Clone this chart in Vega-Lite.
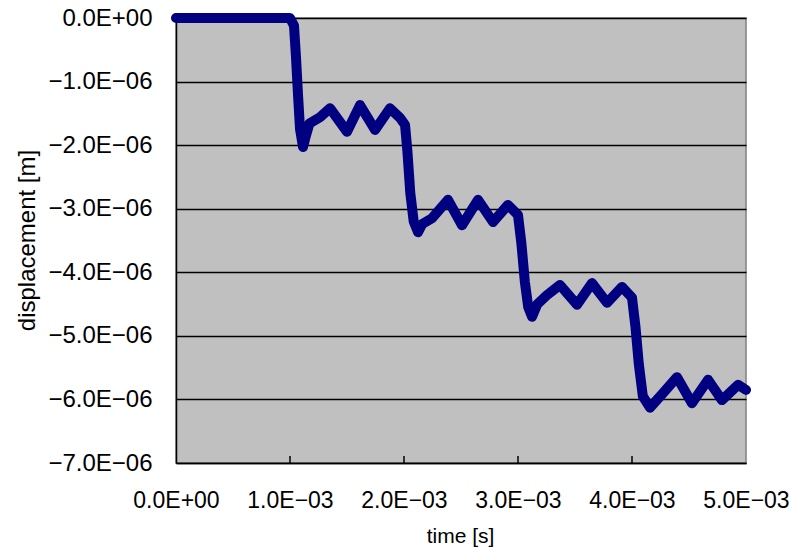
{
  "$schema": "https://vega.github.io/schema/vega-lite/v6.json",
  "width": 570,
  "height": 445,
  "autosize": {"type": "none"},
  "padding": {"left": 176, "top": 18, "right": 43, "bottom": 85},
  "background": "#ffffff",
  "config": {
    "view": {"fill": "#c0c0c0", "stroke": "#808080", "strokeWidth": 1.5},
    "font": "Liberation Sans"
  },
  "datasets": {
    "series": [
      {"t": 0.0, "d": 0.0},
      {"t": 0.0010, "d": 0.0},
      {"t": 0.001035, "d": -0.12e-6},
      {"t": 0.001052, "d": -0.6e-6},
      {"t": 0.001070, "d": -1.2e-6},
      {"t": 0.001088, "d": -1.75e-6},
      {"t": 0.001114, "d": -2.03e-6},
      {"t": 0.001140, "d": -1.85e-6},
      {"t": 0.001170, "d": -1.66e-6},
      {"t": 0.001263, "d": -1.56e-6},
      {"t": 0.001351, "d": -1.42e-6},
      {"t": 0.0015, "d": -1.79e-6},
      {"t": 0.001614, "d": -1.37e-6},
      {"t": 0.001746, "d": -1.76e-6},
      {"t": 0.001877, "d": -1.42e-6},
      {"t": 0.001965, "d": -1.57e-6},
      {"t": 0.002009, "d": -1.68e-6},
      {"t": 0.002030, "d": -2.1e-6},
      {"t": 0.002055, "d": -2.75e-6},
      {"t": 0.002085, "d": -3.2e-6},
      {"t": 0.002123, "d": -3.37e-6},
      {"t": 0.002160, "d": -3.24e-6},
      {"t": 0.002246, "d": -3.15e-6},
      {"t": 0.002386, "d": -2.86e-6},
      {"t": 0.002509, "d": -3.26e-6},
      {"t": 0.002649, "d": -2.86e-6},
      {"t": 0.002781, "d": -3.21e-6},
      {"t": 0.002912, "d": -2.94e-6},
      {"t": 0.0030, "d": -3.1e-6},
      {"t": 0.003030, "d": -3.55e-6},
      {"t": 0.003060, "d": -4.15e-6},
      {"t": 0.003090, "d": -4.55e-6},
      {"t": 0.003123, "d": -4.7e-6},
      {"t": 0.003170, "d": -4.5e-6},
      {"t": 0.003254, "d": -4.36e-6},
      {"t": 0.003368, "d": -4.2e-6},
      {"t": 0.003518, "d": -4.51e-6},
      {"t": 0.003649, "d": -4.17e-6},
      {"t": 0.003781, "d": -4.48e-6},
      {"t": 0.003912, "d": -4.23e-6},
      {"t": 0.0040, "d": -4.4e-6},
      {"t": 0.004030, "d": -4.85e-6},
      {"t": 0.004060, "d": -5.45e-6},
      {"t": 0.004095, "d": -5.95e-6},
      {"t": 0.004158, "d": -6.13e-6},
      {"t": 0.004272, "d": -5.9e-6},
      {"t": 0.004395, "d": -5.65e-6},
      {"t": 0.004526, "d": -6.06e-6},
      {"t": 0.004667, "d": -5.69e-6},
      {"t": 0.004789, "d": -6.01e-6},
      {"t": 0.00493, "d": -5.77e-6},
      {"t": 0.0050, "d": -5.85e-6}
    ],
    "xticks": [
      {"t": 0.001, "lo": -7e-6, "hi": -6.89e-6},
      {"t": 0.002, "lo": -7e-6, "hi": -6.89e-6},
      {"t": 0.003, "lo": -7e-6, "hi": -6.89e-6},
      {"t": 0.004, "lo": -7e-6, "hi": -6.89e-6}
    ]
  },
  "layer": [
    {
      "data": {"name": "xticks"},
      "mark": {"type": "rule", "color": "#000000", "strokeWidth": 1.5},
      "encoding": {
        "x": {"field": "t", "type": "quantitative"},
        "y": {"field": "lo", "type": "quantitative"},
        "y2": {"field": "hi"}
      }
    },
    {
      "data": {"name": "series"},
      "mark": {
        "type": "line",
        "color": "#000080",
        "strokeWidth": 10,
        "strokeJoin": "round",
        "strokeCap": "round",
        "clip": false
      },
      "encoding": {
        "x": {"field": "t", "type": "quantitative"},
        "y": {"field": "d", "type": "quantitative"}
      }
    }
  ],
  "encoding": {
    "x": {
      "field": "t",
      "type": "quantitative",
      "scale": {"domain": [0, 0.005], "nice": false, "zero": false},
      "axis": {
        "title": "time [s]",
        "values": [0, 0.001, 0.002, 0.003, 0.004, 0.005],
        "labelExpr": "datum.value === 0 ? '0.0E+00' : format(datum.value * 1e3, '.1f') + 'E−03'",
        "grid": false,
        "domainColor": "#000000",
        "domainWidth": 1.5,
        "ticks": false,
        "labelFont": "Liberation Sans",
        "labelFontSize": 23,
        "labelColor": "#000000",
        "labelPadding": 26,
        "labelBaseline": "top",
        "labelAlign": "center",
        "labelFlush": false,
        "labelBound": false,
        "labelOverlap": false,
        "titleFont": "Liberation Sans",
        "titleFontSize": 21,
        "titleFontWeight": "normal",
        "titleColor": "#000000",
        "titleBaseline": "middle",
        "titleY": 73,
        "titleX": 284
      }
    },
    "y": {
      "field": "d",
      "type": "quantitative",
      "scale": {"domain": [-7e-6, 0], "nice": false, "zero": false},
      "axis": {
        "title": "displacement [m]",
        "values": [0, -1e-6, -2e-6, -3e-6, -4e-6, -5e-6, -6e-6, -7e-6],
        "labelExpr": "datum.value === 0 ? '0.0E+00' : format(datum.value * 1e6, '.1f') + 'E−06'",
        "grid": true,
        "gridColor": "#000000",
        "gridWidth": 1.5,
        "domainColor": "#000000",
        "domainWidth": 1.5,
        "ticks": false,
        "labelFont": "Liberation Sans",
        "labelFontSize": 24,
        "labelColor": "#000000",
        "labelPadding": 24,
        "labelBaseline": "middle",
        "labelFlush": false,
        "labelBound": false,
        "labelOverlap": false,
        "titleFont": "Liberation Sans",
        "titleFontSize": 24,
        "titleFontWeight": "normal",
        "titleColor": "#000000",
        "titleAngle": -90,
        "titleBaseline": "middle",
        "titleX": -149,
        "titleY": 222
      }
    }
  }
}
